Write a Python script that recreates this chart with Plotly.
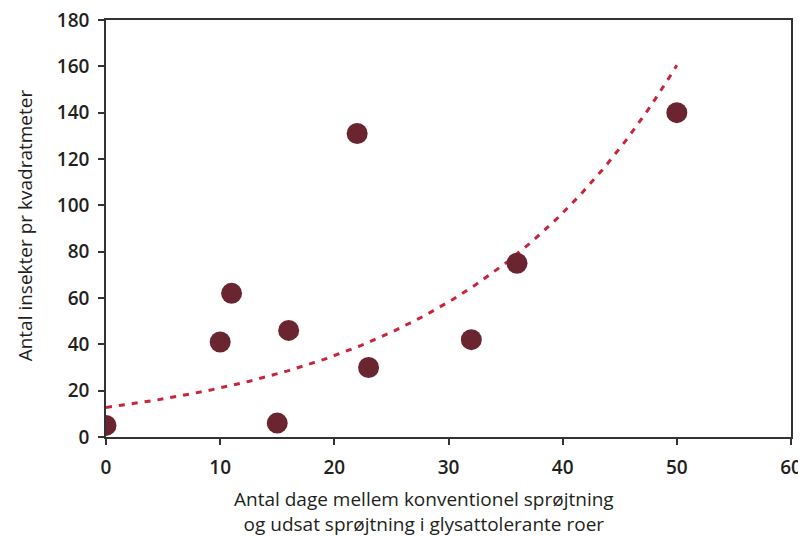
import numpy as np
import plotly.graph_objects as go

days = [0, 10, 11, 16, 15, 22, 23, 32, 36, 50]
insects = [5, 41, 62, 46, 6, 131, 30, 42, 75, 140]

x_ticks = [0, 10, 20, 30, 40, 50, 60]
y_ticks = [0, 20, 40, 60, 80, 100, 120, 140, 160, 180]

# exponential trendline fitted to the data (least squares on log y)
b, lna = np.polyfit(np.array(days, float), np.log(np.array(insects, float)), 1)
xt = np.linspace(0, max(days), 200)
yt = np.exp(lna) * np.exp(b * xt)

TXT = "#231f20"

fig = go.Figure()
fig.add_trace(go.Scatter(x=xt, y=yt, mode="lines",
                         line=dict(color="#c8243a", width=3, dash="6px,7px"),
                         hoverinfo="skip", showlegend=False))
fig.add_trace(go.Scatter(x=days, y=insects, mode="markers",
                         marker=dict(color="#6b2530", size=21), showlegend=False))

axis_common = dict(showline=True, linecolor="#333333", linewidth=1.5, mirror=True,
                   ticks="outside", ticklen=6, tickcolor="#333333", tickwidth=1.5,
                   showgrid=False, zeroline=False, automargin=False,
                   ticklabeloverflow="allow",
                   tickfont=dict(family="Open Sans", size=19, color=TXT, weight=600))

fig.update_xaxes(range=[0, 60], tickvals=x_ticks, ticklabelstandoff=6, **axis_common)
fig.update_yaxes(range=[0, 180], tickvals=y_ticks, ticklabelstandoff=5, **axis_common)

fig.add_annotation(text="Antal insekter pr kvadratmeter", textangle=-90,
                   xref="paper", yref="paper", x=-0.118, y=0.508,
                   xanchor="center", yanchor="middle", showarrow=False,
                   font=dict(family="Open Sans", size=19, color=TXT, weight=500))

fig.add_annotation(text="Antal dage mellem konventionel sprøjtning<br>og udsat sprøjtning i glysattolerante roer",
                   xref="paper", yref="paper", x=0.464, y=-0.112, xanchor="center", yanchor="top",
                   showarrow=False, align="center",
                   font=dict(family="Open Sans", size=19, color=TXT, weight=500))

fig.update_layout(width=798, height=529, margin=dict(l=98, r=15, t=12, b=100),
                  plot_bgcolor="white", paper_bgcolor="white")

fig.write_html("out.html")
